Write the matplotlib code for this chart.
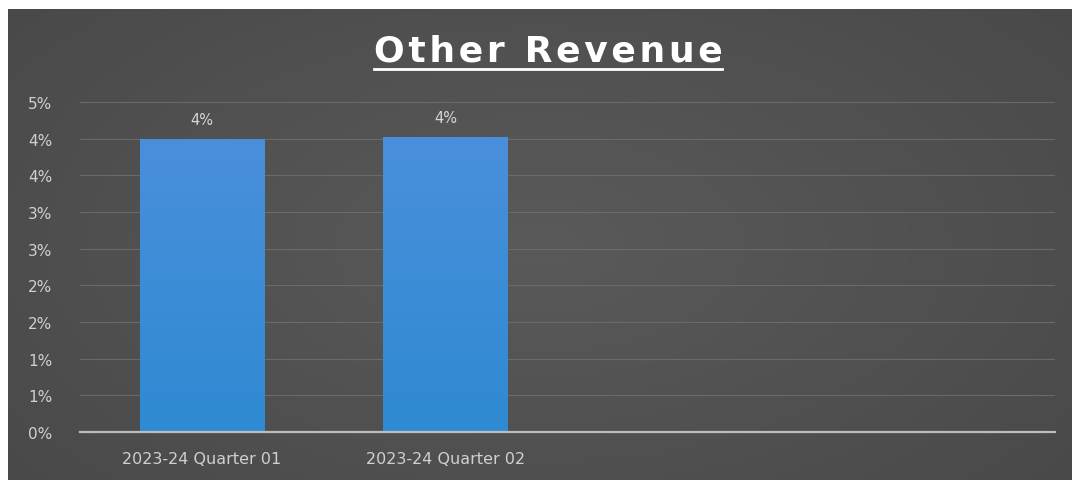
import math
import numpy as np
import matplotlib.pyplot as plt
from matplotlib.colors import LinearSegmentedColormap
from matplotlib.lines import Line2D

title = "Other Revenue"
quarters = ["2023-24 Quarter 01", "2023-24 Quarter 02", "", ""]
other_revenue = [0.0400, 0.0402]  # only the first two quarters are in so far
y_max = 0.045
y_step = 0.005


def pct_label(v, pos=None):
    # whole-percent label, halves round up like the spreadsheet does
    return f"{math.floor(v * 100 + 0.5 + 1e-9):d}%"


W, H = 1072, 481
fig = plt.figure(figsize=(W / 100, H / 100), dpi=100)
fig.patch.set_facecolor("white")

# dark panel with soft shading towards the edges
bg = fig.add_axes([8 / W, 0, 1 - 8 / W, 1 - 10 / H])
yy, xx = np.mgrid[-1:1:200j, -1:1:400j]
r = np.sqrt((xx * 0.85) ** 2 + (yy * 0.7) ** 2)
panel = LinearSegmentedColormap.from_list("panel", ["#5a5a5a", "#474747"])
bg.imshow(r, cmap=panel, aspect="auto", extent=[0, 1, 0, 1], vmin=0, vmax=1.25)
bg.axis("off")

ax = fig.add_axes([80 / W, 1 - 433 / H, 975 / W, 330 / H])
ax.patch.set_alpha(0)

x = np.arange(len(quarters))
bars = ax.bar(x[:len(other_revenue)], other_revenue, width=0.51,
              color="#3a8dd8", zorder=2)

# vertical gradient inside each bar
grad = np.linspace(0, 1, 100).reshape(-1, 1)
bar_cmap = LinearSegmentedColormap.from_list("bar", ["#2e8ad2", "#4a8fdb"])
for b in bars:
    b.set_facecolor("none")
    b.set_edgecolor("none")
    im = ax.imshow(grad, cmap=bar_cmap, aspect="auto", origin="lower",
                   extent=[b.get_x(), b.get_x() + b.get_width(), 0, b.get_height()],
                   zorder=2)
    im.set_clip_path(b)

for xi, v in zip(x, other_revenue):
    ax.text(xi, v + 0.0016, pct_label(v), ha="center", va="bottom",
            color="#d6d6d6", fontsize=10.5)

ax.set_xlim(-0.5, len(quarters) - 0.5)
ax.set_ylim(0, y_max)
ax.set_yticks(np.arange(0, y_max + 1e-9, y_step))
ax.yaxis.set_major_formatter(pct_label)
ax.set_xticks(x)
ax.set_xticklabels(quarters)
ax.grid(axis="y", color="#6a6a6a", linewidth=0.8, zorder=0)
ax.set_axisbelow(True)
for side in ["top", "right", "left"]:
    ax.spines[side].set_visible(False)
ax.spines["bottom"].set_color("#bdbdbd")
ax.spines["bottom"].set_linewidth(1.6)
ax.tick_params(axis="both", length=0, colors="#d0d0d0", labelsize=11)
ax.tick_params(axis="y", pad=20)
ax.tick_params(axis="x", pad=14, labelsize=11.5)

t = fig.text(548 / W, 1 - 51 / H, "\u200a".join(title), ha="center", va="center",
             color="white", fontsize=26, fontweight="bold")
fig.canvas.draw()
bb = t.get_window_extent()
fig.add_artist(Line2D([bb.x0 / W, bb.x1 / W], [1 - 70 / H, 1 - 70 / H],
                      transform=fig.transFigure, color="white", linewidth=2))

fig.savefig("out.png", dpi=100)
